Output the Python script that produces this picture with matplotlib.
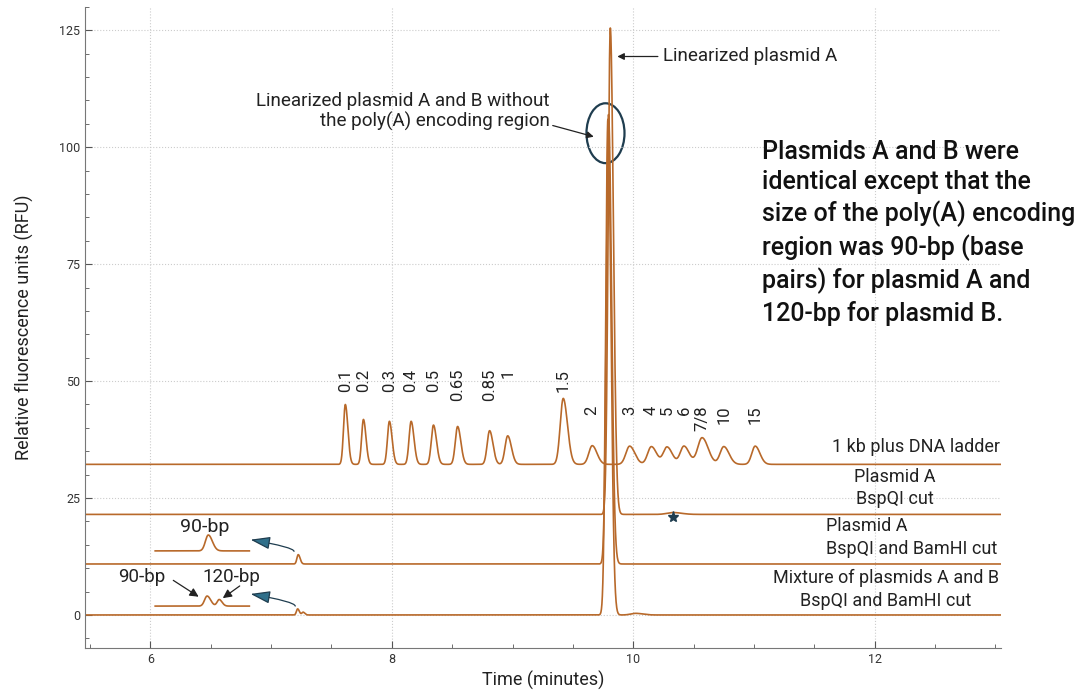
import numpy as np
import matplotlib.pyplot as plt
from matplotlib.patches import Ellipse
from matplotlib.ticker import MultipleLocator

plt.rcParams['font.family'] = ['Roboto', 'DejaVu Sans']

TRACE = '#b8692a'
NAVY = '#1f3d4f'
TEAL = '#2f6f8a'

# 1 kb plus DNA ladder
ladder_sizes = ['0.1', '0.2', '0.3', '0.4', '0.5', '0.65', '0.85', '1', '1.5',
                '2', '3', '4', '5', '6', '7/8', '10', '15']
ladder_time = [7.615, 7.765, 7.98, 8.16, 8.345, 8.545, 8.81, 8.96, 9.42,
               9.66, 9.97, 10.15, 10.28, 10.42, 10.57, 10.75, 11.01]
ladder_top = [45.0, 41.8, 41.4, 41.4, 40.6, 40.3, 39.4, 38.3, 46.3,
              36.2, 36.1, 36.0, 35.9, 36.1, 37.9, 36.0, 36.1]
ladder_sigma = [0.015, 0.015, 0.016, 0.017, 0.018, 0.019, 0.02, 0.022, 0.025,
                0.028, 0.031, 0.031, 0.031, 0.031, 0.036, 0.031, 0.028]
ladder_base = 32.2

# Plasmid A, BspQI cut
a_cut_time = [9.81, 10.33]
a_cut_top = [125.5, 21.9]
a_cut_sigma = [0.018, 0.05]
a_cut_base = 21.5

# Plasmid A, BspQI and BamHI cut
a_bam_time = [7.225, 9.795]
a_bam_top = [12.9, 107.0]
a_bam_sigma = [0.011, 0.018]
a_bam_base = 10.9

# Mixture of plasmids A and B, BspQI and BamHI cut
mix_time = [7.22, 7.265, 9.79, 10.02]
mix_top = [1.3, 0.6, 106.0, 0.35]
mix_sigma = [0.01, 0.01, 0.018, 0.04]
mix_base = 0.0

# magnified views of the short fragments
zoom_a_time = [6.48]
zoom_a_top = [17.1]
zoom_a_sigma = [0.024]
zoom_a_base = 13.7

zoom_mix_time = [6.47, 6.57]
zoom_mix_top = [4.05, 3.3]
zoom_mix_sigma = [0.021, 0.017]
zoom_mix_base = 1.9

summary = ("Plasmids A and B were\nidentical except that the\nsize of the poly(A) encoding\n"
           "region was 90-bp (base\npairs) for plasmid A and\n120-bp for plasmid B.")


def trace(t, base, times, tops, sigmas):
    y = np.full_like(t, base)
    for c, top, s in zip(times, tops, sigmas):
        # slightly tailing peaks, as in capillary runs
        sr = np.where(t > c, s * 1.4, s)
        y += (top - base) * np.exp(-0.5 * ((t - c) / sr) ** 2)
    return y


fig = plt.figure(figsize=(10.78, 6.92), dpi=100)
ax = fig.add_axes([0.079, 0.064, 0.850, 0.926])

t = np.linspace(5.46, 13.05, 6000)
for base, times, tops, sig in [(ladder_base, ladder_time, ladder_top, ladder_sigma),
                               (a_cut_base, a_cut_time, a_cut_top, a_cut_sigma),
                               (a_bam_base, a_bam_time, a_bam_top, a_bam_sigma),
                               (mix_base, mix_time, mix_top, mix_sigma)]:
    ax.plot(t, trace(t, base, times, tops, sig), color=TRACE, lw=1.2)

tz = np.linspace(6.04, 6.82, 400)
ax.plot(tz, trace(tz, zoom_a_base, zoom_a_time, zoom_a_top, zoom_a_sigma), color=TRACE, lw=1.2)
ax.plot(tz, trace(tz, zoom_mix_base, zoom_mix_time, zoom_mix_top, zoom_mix_sigma), color=TRACE, lw=1.2)

# ladder size labels
for i, (lab, x) in enumerate(zip(ladder_sizes, ladder_time)):
    ytop = 52.6 if i < 9 else 44.8
    ax.text(x, ytop, lab, rotation=90, ha='center', va='top', fontsize=12, color='#222')

# trace names
tk = dict(fontsize=13, color='#222', va='center')
ax.text(13.04, 36.0, '1 kb plus DNA ladder', ha='right', **tk)
ax.text(12.17, 29.4, 'Plasmid A', ha='center', **tk)
ax.text(12.17, 24.7, 'BspQI cut', ha='center', **tk)
ax.text(11.6, 19.0, 'Plasmid A', ha='left', **tk)
ax.text(11.6, 14.1, 'BspQI and BamHI cut', ha='left', **tk)
ax.text(12.095, 7.9, 'Mixture of plasmids A and B', ha='center', **tk)
ax.text(12.095, 3.0, 'BspQI and BamHI cut', ha='center', **tk)

# peak callouts
ak = dict(arrowstyle='-|>', color='#222', lw=0.9, mutation_scale=10)
ax.annotate('Linearized plasmid A', xy=(9.845, 119.4), xytext=(10.25, 119.4),
            fontsize=13.6, color='#222', ha='left', va='center', arrowprops=ak)
ax.annotate('Linearized plasmid A and B without\nthe poly(A) encoding region',
            xy=(9.695, 102.1), xytext=(9.31, 107.7), fontsize=13.6, color='#222',
            ha='right', va='center', multialignment='right', linespacing=1.1,
            arrowprops=dict(ak, shrinkA=0, relpos=(1.0, 0.15)))
ax.add_patch(Ellipse((9.77, 103.0), 0.315, 12.8, fill=False, edgecolor=NAVY, lw=1.6))

ax.text(11.07, 101.6, summary, fontsize=18, fontweight='medium', color='#111',
        ha='left', va='top', linespacing=1.33)

ax.plot([10.33], [20.9], marker='*', color=NAVY, ms=8, ls='none')

# short fragment labels and pointers
ax.text(6.45, 18.9, '90-bp', fontsize=14, color='#222', ha='center', va='center')
ax.text(5.93, 8.1, '90-bp', fontsize=13.5, color='#222', ha='center', va='center')
ax.text(6.67, 8.1, '120-bp', fontsize=13.5, color='#222', ha='center', va='center')
ax.annotate('', xy=(6.4, 3.9), xytext=(6.19, 7.4),
            arrowprops=dict(ak, shrinkA=0, shrinkB=0, mutation_scale=13))
ax.annotate('', xy=(6.6, 3.6), xytext=(6.74, 6.2),
            arrowprops=dict(ak, shrinkA=0, shrinkB=0, mutation_scale=13))

ck = dict(arrowstyle='-|>,head_length=1.0,head_width=0.32', color='#333', lw=0.9,
          fc=TEAL, ec=NAVY, shrinkA=0, shrinkB=0, mutation_scale=12,
          connectionstyle='angle3,angleA=90,angleB=-10')
ax.annotate('', xy=(6.83, 16.1), xytext=(7.19, 13.6), arrowprops=ck)
ax.annotate('', xy=(6.83, 4.5), xytext=(7.2, 1.9), arrowprops=ck)

ax.set_xlim(5.46, 13.05)
ax.set_ylim(-7, 130)
ax.set_xticks([6, 8, 10, 12])
ax.set_yticks([0, 25, 50, 75, 100, 125])
ax.xaxis.set_minor_locator(MultipleLocator(0.5))
ax.yaxis.set_minor_locator(MultipleLocator(5))
ax.tick_params(which='both', direction='in', colors='#555', labelcolor='#333', labelsize=9)
ax.tick_params(which='major', length=5)
ax.tick_params(which='minor', length=3)
ax.grid(True, which='major', ls=':', color='#cccccc', lw=0.8)
for s in ['top', 'right']:
    ax.spines[s].set_visible(False)
for s in ['left', 'bottom']:
    ax.spines[s].set_color('#777')
ax.set_xlabel('Time (minutes)', fontsize=13, color='#222', labelpad=4)
ax.set_ylabel('Relative fluorescence units (RFU)', fontsize=13, color='#222', labelpad=18)

fig.savefig('out.png', dpi=100)
